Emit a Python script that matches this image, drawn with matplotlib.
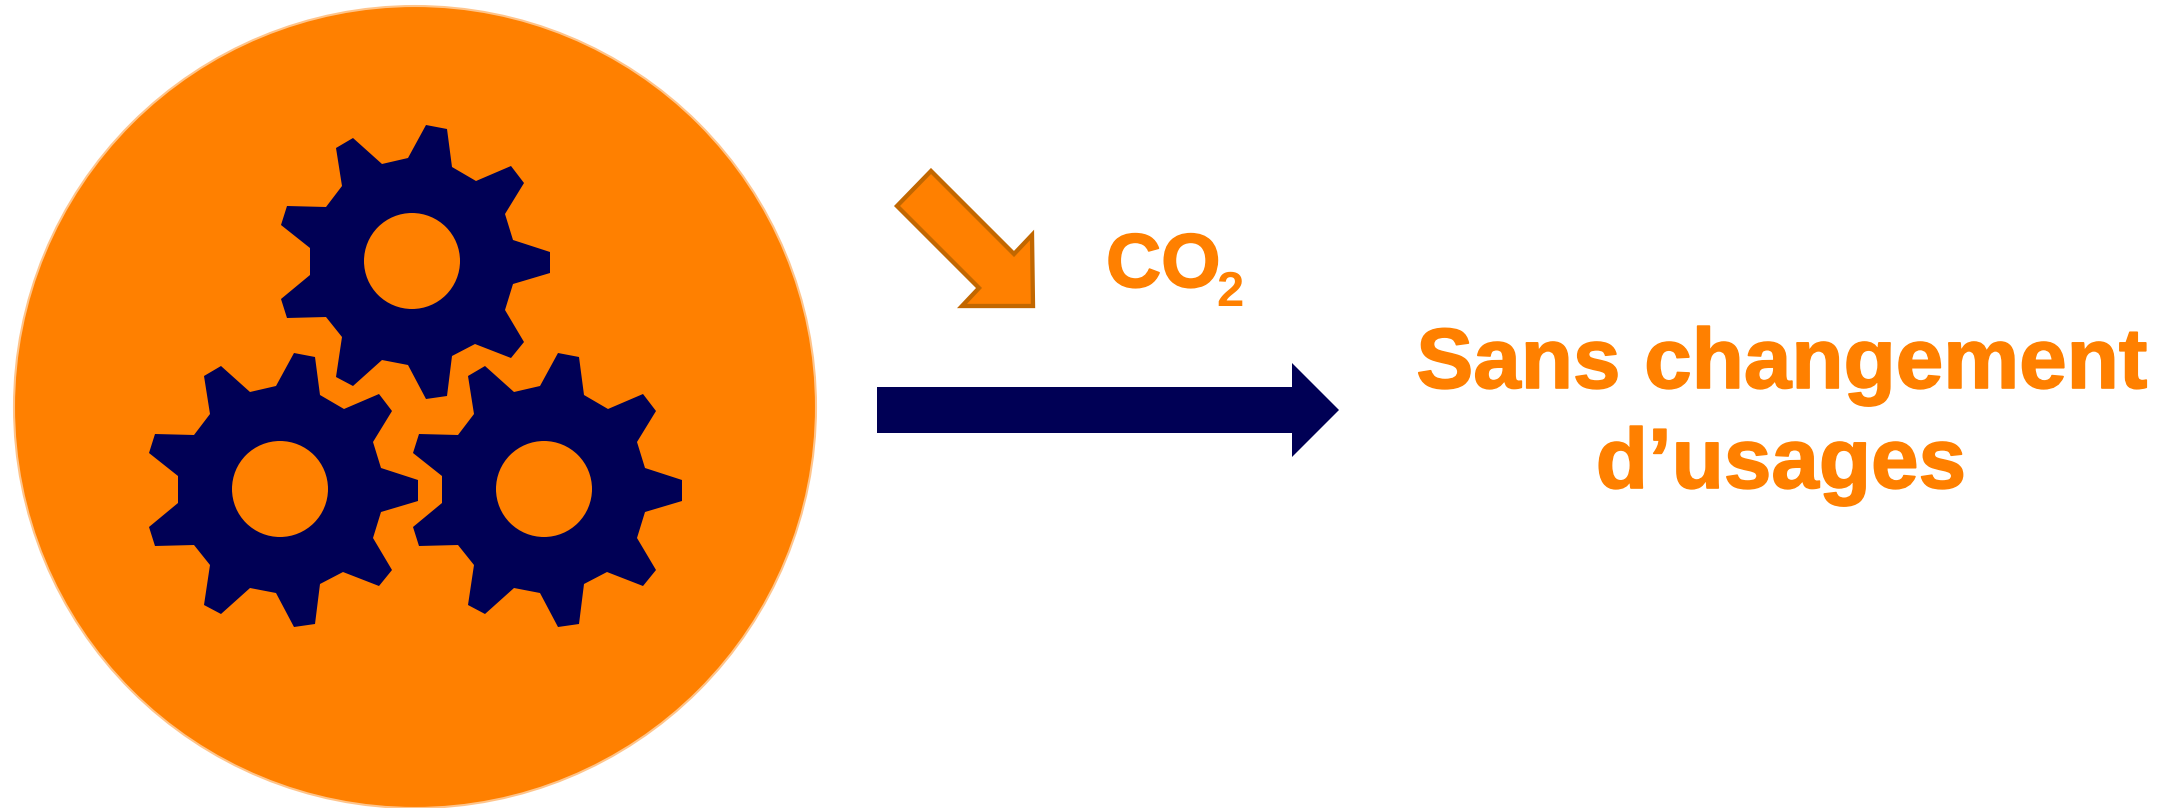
import matplotlib
matplotlib.use('Agg')
import matplotlib.pyplot as plt
import matplotlib.patheffects as pe
from matplotlib.patches import Circle, Polygon

plt.rcParams['text.hinting'] = 'no_hinting'
plt.rcParams['text.hinting_factor'] = 1

ORANGE = '#FF8000'
NAVY = '#000055'
ARROW_EDGE = '#C26700'

# Gear outline, pixels relative to the gear centre
gear_dx = [14, 35, 40, 64, 99, 112, 93, 101, 138, 138, 101, 93, 112, 99, 63, 40,
           35, 14, -4, -30, -59, -76, -70, -86, -125, -131, -102, -102, -131,
           -125, -86, -70, -76, -59, -30, -4]
gear_dy = [-136, -132, -94, -80, -95, -78, -47, -21, -9, 12, 23, 49, 81, 97,
           83, 95, 135, 138, 104, 99, 125, 116, 76, 56, 57, 38, 14, -13, -36,
           -55, -54, -75, -113, -123, -97, -103]
hole_radius = 48

# Gear centres
gear_x = [412, 280, 544]
gear_y = [261, 489, 489]

# Blue arrow
flow_x = [877, 1292, 1292, 1339, 1292, 1292, 877]
flow_y = [387, 387, 363, 410, 457, 433, 433]

# Orange arrow
co2_x = [931, 1014, 1032, 1033, 962, 979, 897]
co2_y = [171, 254, 235, 306, 306, 288, 206]

# Texts
outcome_lines = ['Sans changement', 'd’usages']

fig = plt.figure(figsize=(21.76, 8.08), dpi=100)
ax = fig.add_axes([0, 0, 1, 1])
ax.set_xlim(0, 2176)
ax.set_ylim(808, 0)
ax.axis('off')

ax.add_patch(Circle((415, 407), 401, facecolor=ORANGE, edgecolor='#FFC48A', linewidth=1.5))

for cx, cy in zip(gear_x, gear_y):
    points = [(cx + dx, cy + dy) for dx, dy in zip(gear_dx, gear_dy)]
    ax.add_patch(Polygon(points, closed=True, facecolor=NAVY, edgecolor='none'))
    ax.add_patch(Circle((cx, cy), hole_radius, facecolor=ORANGE, edgecolor='none'))

ax.add_patch(Polygon(list(zip(flow_x, flow_y)), closed=True, facecolor=NAVY, edgecolor='none'))
ax.add_patch(Polygon(list(zip(co2_x, co2_y)), closed=True, facecolor=ORANGE,
                     edgecolor=ARROW_EDGE, linewidth=3.1, joinstyle='miter'))

font = {'family': 'Liberation Sans', 'weight': 'bold', 'color': ORANGE}
# the letters in the original are a bit heavier than the plain bold
heavier = [pe.withStroke(linewidth=1.2, foreground=ORANGE)]

ax.text(1106, 287, 'CO', fontsize=55, ha='left', va='baseline', path_effects=heavier, **font)
ax.text(1216, 306, '2', fontsize=35, ha='left', va='baseline', **font)

ax.text(1780, 388, outcome_lines[0], fontsize=61.5, ha='center', va='baseline', path_effects=heavier, **font)
ax.text(1780, 488, outcome_lines[1], fontsize=61.5, ha='center', va='baseline', path_effects=heavier, **font)

fig.savefig('out.png', dpi=100)
